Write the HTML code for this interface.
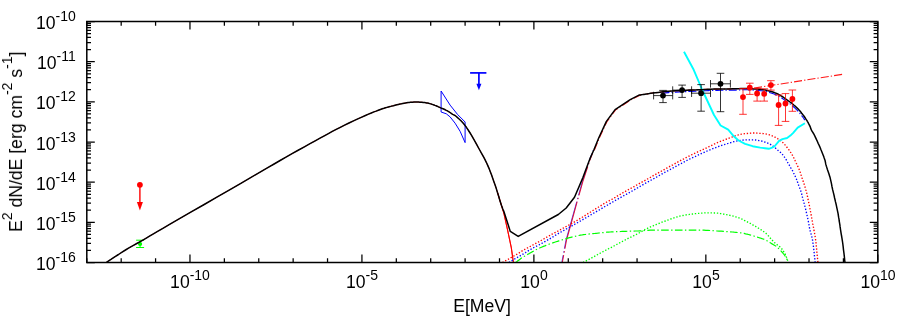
<!DOCTYPE html><html><head><meta charset="utf-8"><title>SED</title><style>
html,body{margin:0;padding:0;background:#fff}
#p{position:relative;width:910px;height:319px;overflow:hidden;background:#fff;font-family:"Liberation Sans",sans-serif;color:#000;font-size:17.6px;line-height:20px}
.t{position:absolute;white-space:nowrap;height:20px;will-change:transform}
.y{right:834.4px;text-align:right}
.x{width:80px;text-align:center}
sup{font-size:14px;vertical-align:baseline;position:relative;top:-8.4px;line-height:0}
sup.r{top:-9.7px}
#yt{position:absolute;left:0;top:0;white-space:nowrap;transform-origin:0 0;height:20px;will-change:transform}
</style></head><body><div id="p">
<svg width="910" height="319" viewBox="0 0 910 319" style="position:absolute;left:0;top:0">
<rect width="910" height="319" fill="#fff"/>
<defs><clipPath id="c"><rect x="86.8" y="21.5" width="791.0" height="241.6"/></clipPath></defs>
<g fill="none" stroke="#0f0" stroke-width="1"><path d="M140.1 240.2V247.5M136.1 240.2H144.1M136.1 247.5H144.1"/></g>
<circle cx="140.1" cy="244" r="2.1" fill="#0f0"/>
<g clip-path="url(#c)" fill="none" stroke-linejoin="round">
<polyline points="106.2,262.5 108.3,261.1 111.3,259.2 114.7,256.9 118.5,254.5 122.1,252.1 125.5,250.0 128.5,248.2 131.2,246.6 133.9,245.1 136.8,243.5 139.8,241.8 143.3,239.8 146.7,237.8 149.9,235.9 153.4,233.9 157.6,231.4 162.9,228.3 170.0,224.2 179.5,218.7 191.2,211.9 204.2,204.5 217.3,196.9 229.6,189.8 240.0,183.8 248.5,178.9 255.8,174.6 262.2,170.9 268.2,167.4 274.1,164.0 280.1,160.5 286.4,156.9 292.5,153.4 298.6,150.0 304.4,146.8 310.0,143.7 315.2,140.8 320.0,138.2 324.3,135.8 328.4,133.6 332.3,131.4 336.2,129.4 340.3,127.3 344.6,125.2 349.0,123.0 353.5,120.9 357.8,118.9 361.8,117.1 365.4,115.5 368.5,114.1 371.3,113.0 373.9,111.9 376.2,111.1 378.3,110.3 380.4,109.5 382.3,108.8 384.0,108.3 385.5,107.8 387.0,107.4 388.4,107.0 390.0,106.6 391.7,106.1 393.4,105.7 395.1,105.2 396.8,104.8 398.4,104.4 400.0,104.0 401.5,103.7 402.8,103.4 404.2,103.2 405.5,103.0 406.7,102.8 408.0,102.6 409.2,102.5 410.4,102.3 411.6,102.2 412.8,102.2 413.9,102.1 415.1,102.1 416.3,102.1 417.5,102.1 418.6,102.1 419.8,102.2 420.9,102.2 422.0,102.3 423.0,102.4 423.9,102.5 424.8,102.6 425.7,102.7 426.6,102.9 427.6,103.1 428.6,103.3 429.7,103.6 430.8,103.9 431.9,104.3 432.9,104.6 434.0,105.0 435.0,105.4 436.1,105.8 437.1,106.2 438.1,106.7 439.1,107.1 440.2,107.6 441.3,108.1 442.4,108.5 443.6,109.0 444.7,109.5 445.8,110.1 446.9,110.6 447.9,111.2 449.0,111.8 450.0,112.5 451.0,113.2 451.9,113.8 452.7,114.3 453.4,114.7 453.9,114.9 454.4,115.2 454.9,115.4 455.5,115.8 456.3,116.5 457.3,117.4 458.5,118.5 459.9,119.7 461.2,121.0 462.6,122.5 463.9,124.0 465.1,125.6 466.4,127.3 467.6,129.1 468.8,131.0 470.1,133.0 471.4,135.1 472.7,137.4 474.1,139.8 475.5,142.3 476.9,144.9 478.3,147.5 479.7,150.0 481.0,152.4 482.4,154.8 483.7,157.2 485.0,159.7 486.3,162.3 487.6,165.1 488.9,168.1 490.2,171.4 491.5,174.8 492.7,178.2 493.9,181.7 495.1,185.1 496.3,188.7 497.5,192.5 498.7,196.4 499.8,200.0 500.7,203.0 501.4,205.2 503.8,213.0 507.6,230.1 511.3,247.7 513.4,262.5" stroke="#f00" stroke-width="0.8"/>
<polyline points="497.5,192.5 498.7,196.4 499.8,200.0 500.7,203.0 501.4,205.2 503.8,213.0 507.6,230.1 511.3,247.7 513.4,262.5" stroke="#f00" stroke-width="1.1"/>
<polyline points="561.8,262.5 566.0,240.2 571.2,221.5 576.8,201.5 582.4,181.4 589.9,158.8 593.3,150.0" stroke="#00f" stroke-width="0.7" stroke-dasharray="7.5 2.6 1.4 2.6 48.6 2.6 1.4 2.6 30 2.6 1.4 2.6"/>
<polyline points="562.3,262.5 566.5,240.2 571.7,221.5 577.2,201.5 582.9,181.4 590.4,158.8 593.8,150.0" stroke="#e00028" stroke-width="1.05" stroke-opacity="0.9" stroke-dasharray="7.5 2.6 1.4 2.6 48.6 2.6 1.4 2.6 30 2.6 1.4 2.6"/>
<polyline points="661.4,93.3 664.9,92.9 668.4,92.6 672.0,92.3 675.7,92.1 679.6,91.9 683.7,91.7 687.7,91.6 691.5,91.4 695.0,91.3 698.0,91.1 700.7,91.0 703.2,90.9 705.7,90.7 708.2,90.6 711.0,90.5 714.0,90.4 717.3,90.4 720.6,90.3 723.9,90.3 727.0,90.3 730.0,90.2 732.8,90.1 735.7,90.1 738.4,90.0 740.9,89.9 743.1,89.8 745.0,89.8 746.3,89.8 747.1,89.8 747.6,89.8 748.0,89.8 748.8,89.9 750.0,90.0 750.9,90.0 753.2,90.1 755.7,90.3 758.4,90.5 760.9,90.7 763.2,91.0 765.3,91.4 767.3,91.9 769.2,92.4 771.0,93.0 772.6,93.5 774.2,94.1 775.6,94.7 776.8,95.2 778.0,95.8 779.0,96.4 780.0,97.0 781.0,97.6 782.0,98.2 782.8,98.8 783.7,99.4 784.5,100.0 785.3,100.6 786.2,101.2 787.1,101.9 788.1,102.5 789.0,103.2 790.0,103.9 791.0,104.6 791.9,105.4 792.8,106.2 793.8,107.0 794.8,107.9 795.7,108.8 796.6,109.7 797.5,110.6 798.3,111.5 799.2,112.5 800.0,113.4 800.7,114.4 801.5,115.4 802.2,116.3 802.9,117.2 803.6,118.2 804.2,119.1 804.8,120.1" stroke="#00f" stroke-width="1.1" stroke-dasharray="8.1 2.05 1.3 2.05"/>
<polyline points="594.3,150.3 599.3,138.0 606.9,121.7 615.6,109.9 630.7,99.9 639.5,95.4 640.1,95.3 640.5,94.9 641.5,94.7 642.6,94.6 643.8,94.4 645.0,94.2 646.1,94.0 647.0,93.9 648.1,93.7 649.3,93.5 650.8,93.2 652.8,93.0 655.3,92.7 658.2,92.4 661.4,92.0 664.9,91.6 668.4,91.3 672.0,91.0 675.7,90.8 679.6,90.6 683.7,90.4 687.7,90.3 691.5,90.1 695.0,90.0 698.0,89.8 700.7,89.7 703.2,89.6 705.7,89.4 708.2,89.3 711.0,89.2 714.0,89.1 717.3,89.1 720.6,89.0 723.9,89.0 727.0,89.0 730.0,88.9 732.8,88.8 735.7,88.8 738.4,88.7 740.9,88.6 743.1,88.5 745.0,88.5 746.3,88.5 747.1,88.5 747.6,88.5 748.0,88.5 748.8,88.6 750.0,88.7 844.1,74.1" stroke="#f00" stroke-width="1.1" stroke-opacity="0.9" stroke-dasharray="8.1 2.05 1.3 2.05"/>
<polyline points="502.4,262.5 503.8,261.7 505.8,260.6 508.1,259.3 510.5,257.9 512.9,256.5 515.1,255.3 517.0,254.2 518.8,253.1 520.5,252.0 522.2,250.9 524.0,249.8 526.0,248.7 528.2,247.5 530.5,246.3 532.8,245.0 535.2,243.7 537.5,242.5 539.7,241.3 541.7,240.2 543.7,239.0 545.5,237.9 547.3,236.8 549.1,235.8 550.7,234.9 552.1,234.1 553.2,233.5 554.3,233.0 555.5,232.3 557.0,231.6 558.9,230.5 561.4,229.2 564.2,227.6 567.3,225.9 570.6,224.1 574.1,222.1 577.7,220.0 581.6,217.6 586.0,214.9 590.6,212.0 595.0,209.2 599.1,206.7 602.5,204.6 605.1,203.0 607.2,201.8 608.9,200.9 610.3,200.1 611.8,199.3 613.5,198.3 615.3,197.3 617.1,196.2 618.8,195.2 620.6,194.1 622.5,193.0 624.5,191.9 626.6,190.7 628.9,189.4 631.2,188.1 633.6,186.8 635.8,185.6 638.0,184.3 640.0,183.2 641.9,182.1 643.8,181.1 645.7,180.1 647.5,179.0 649.3,178.0 651.1,177.0 652.9,175.9 654.7,174.9 656.5,173.9 658.3,172.9 660.1,171.9 661.9,170.9 663.7,169.9 665.5,168.9 667.3,167.8 669.1,166.8 670.9,165.8 672.8,164.8 674.6,163.8 676.5,162.7 678.4,161.7 680.3,160.7 682.2,159.7 684.1,158.7 685.9,157.7 687.8,156.8 689.6,155.8 691.5,154.8 693.4,153.9 695.3,153.0 697.3,152.1 699.3,151.2 701.3,150.3 703.3,149.4 705.2,148.5 707.1,147.6 709.1,146.6 711.0,145.7 712.9,144.8 714.7,143.9 716.4,143.1 718.0,142.4 719.6,141.8 721.0,141.2 722.4,140.7 723.9,140.1 725.3,139.6 726.8,139.0 728.2,138.4 729.7,137.8 731.1,137.3 732.5,136.8 733.8,136.3 735.0,135.9 736.1,135.5 737.2,135.2 738.3,134.9 739.3,134.6 740.4,134.4 741.5,134.2 742.6,134.0 743.6,133.9 744.7,133.7 745.8,133.6 747.0,133.5 748.2,133.4 749.4,133.3 750.7,133.2 752.0,133.1 753.2,133.0 754.5,133.0 755.8,133.0 757.0,133.1 758.3,133.2 759.6,133.3 760.8,133.4 762.0,133.5 763.2,133.6 764.3,133.8 765.4,133.9 766.5,134.1 767.6,134.3 768.6,134.6 769.6,134.9 770.6,135.2 771.6,135.6 772.5,136.0 773.5,136.4 774.4,136.8 775.3,137.3 776.2,137.7 777.1,138.2 777.9,138.8 778.8,139.3 779.6,139.9 780.4,140.5 781.2,141.2 782.0,141.9 782.8,142.6 783.6,143.3 784.3,144.1 785.0,144.9 785.7,145.7 786.4,146.6 787.1,147.5 787.8,148.4 788.5,149.3 789.2,150.2 789.9,151.2 790.5,152.1 791.2,153.1 791.8,154.2 792.5,155.3 793.2,156.5 793.8,157.8 794.5,159.2 795.1,160.6 795.7,161.9 796.3,163.2 796.9,164.4 797.4,165.5 797.9,166.6 798.4,167.7 798.9,168.8 799.4,170.0 799.9,171.2 800.3,172.5 800.7,173.8 801.1,175.1 801.5,176.4 801.9,177.6 802.3,178.7 802.6,179.7 803.0,180.7 803.3,181.7 803.6,182.7 804.0,183.8 804.4,184.9 804.7,186.1 805.1,187.2 805.5,188.4 805.8,189.7 806.2,191.0 806.5,192.4 806.9,193.7 807.2,195.2 807.5,196.7 807.8,198.3 808.2,200.0 808.6,201.9 809.0,204.0 809.5,206.2 809.9,208.5 810.3,210.6 810.7,212.6 811.1,214.5 811.4,216.2 811.7,218.0 812.0,219.6 812.3,221.1 812.6,222.6 812.8,223.9 813.0,224.9 813.2,225.9 813.4,226.9 813.6,228.1 813.8,229.4 814.1,230.9 814.4,232.4 814.7,234.0 815.0,235.8 815.4,238.0 815.7,240.5 816.1,243.8 816.5,247.8 816.9,252.2 817.3,256.4 817.7,260.0 817.9,262.5" stroke="#f00" stroke-width="1.35" stroke-dasharray="1.35 1.8"/>
<polyline points="508.9,262.5 509.6,262.0 510.7,261.4 511.9,260.7 513.1,259.9 514.4,259.1 515.4,258.5 516.2,258.0 516.8,257.7 517.4,257.4 518.0,257.0 518.9,256.6 520.0,255.9 521.6,254.9 523.5,253.8 525.6,252.5 527.7,251.1 529.8,249.9 531.6,248.8 533.1,247.9 534.5,247.2 535.8,246.5 537.1,245.9 538.4,245.2 539.9,244.4 541.6,243.5 543.4,242.4 545.4,241.3 547.3,240.2 549.1,239.2 550.8,238.2 552.2,237.3 553.4,236.6 554.5,235.9 555.7,235.1 557.1,234.3 558.9,233.2 561.0,232.0 563.4,230.6 566.0,229.2 568.8,227.6 571.9,225.9 575.2,224.0 579.0,221.8 583.5,219.2 588.1,216.5 592.6,213.8 596.7,211.4 600.0,209.5 602.3,208.1 603.9,207.2 605.0,206.5 605.9,206.0 606.9,205.4 608.2,204.6 609.9,203.6 611.6,202.6 613.5,201.5 615.4,200.4 617.2,199.4 619.1,198.3 620.9,197.3 622.7,196.3 624.4,195.3 626.2,194.4 628.1,193.3 630.1,192.2 632.2,191.0 634.5,189.7 636.8,188.3 639.2,186.9 641.4,185.6 643.6,184.3 645.6,183.2 647.5,182.1 649.4,181.1 651.3,180.0 653.1,179.0 654.9,178.0 656.7,177.0 658.5,175.9 660.3,174.9 662.1,173.9 663.9,172.9 665.7,171.9 667.6,170.9 669.4,169.9 671.3,168.9 673.2,167.8 675.1,166.8 677.0,165.8 678.9,164.7 681.0,163.6 683.0,162.5 685.0,161.5 686.7,160.5 688.3,159.7 689.5,159.1 690.4,158.7 691.1,158.3 691.8,158.0 692.7,157.6 693.9,157.1 695.5,156.4 697.2,155.5 699.2,154.6 701.2,153.6 703.3,152.7 705.2,151.8 707.1,151.0 709.0,150.2 711.0,149.4 712.8,148.7 714.7,148.0 716.4,147.3 718.0,146.7 719.6,146.2 721.0,145.7 722.4,145.2 723.9,144.8 725.3,144.3 726.8,143.8 728.2,143.4 729.6,142.9 731.1,142.5 732.4,142.1 733.8,141.7 735.1,141.4 736.4,141.1 737.7,140.8 738.9,140.6 740.1,140.4 741.3,140.2 742.5,140.1 743.6,140.0 744.7,139.9 745.7,139.9 746.8,139.8 747.9,139.8 749.0,139.8 750.1,139.8 751.2,139.8 752.3,139.8 753.4,139.8 754.5,139.9 755.6,140.0 756.7,140.2 757.9,140.3 759.0,140.6 760.1,140.8 761.1,141.0 762.1,141.2 763.1,141.5 764.1,141.8 765.0,142.1 765.9,142.4 766.8,142.7 767.6,143.0 768.5,143.4 769.2,143.7 770.0,144.1 770.8,144.6 771.6,145.1 772.4,145.7 773.3,146.4 774.2,147.1 775.1,147.8 776.0,148.6 776.8,149.3 777.6,150.0 778.4,150.7 779.2,151.4 780.0,152.1 780.8,152.8 781.5,153.5 782.2,154.2 782.8,154.9 783.3,155.6 783.9,156.3 784.5,157.2 785.2,158.2 786.0,159.4 786.8,160.8 787.6,162.3 788.5,163.8 789.3,165.2 790.0,166.5 790.6,167.6 791.2,168.5 791.6,169.3 792.1,170.1 792.6,170.9 793.1,171.9 793.6,173.0 794.2,174.1 794.7,175.3 795.3,176.4 795.8,177.6 796.3,178.8 796.8,180.0 797.2,181.2 797.6,182.3 798.0,183.5 798.4,184.6 798.8,185.7 799.2,186.6 799.5,187.4 799.8,188.2 800.1,189.0 800.4,189.9 800.8,191.0 801.2,192.3 801.6,193.6 801.9,195.1 802.3,196.7 802.8,198.3 803.2,200.0 803.7,201.8 804.2,203.7 804.7,205.6 805.2,207.6 805.7,209.5 806.1,211.3 806.5,213.0 806.9,214.6 807.2,216.2 807.6,217.7 807.9,219.2 808.2,220.7 808.5,222.2 808.7,223.6 809.0,224.9 809.2,226.3 809.5,227.8 809.8,229.4 810.2,231.0 810.7,232.5 811.1,234.1 811.6,235.9 812.1,238.0 812.6,240.5 813.1,243.8 813.6,247.8 814.1,252.2 814.5,256.4 814.9,260.0 815.2,262.5" stroke="#00f" stroke-width="1.35" stroke-dasharray="1.35 1.8"/>
<polyline points="583.0,262.5 584.1,261.9 585.5,261.2 587.3,260.2 589.1,259.3 591.0,258.3 592.6,257.4 594.1,256.6 595.5,255.8 596.9,255.0 598.2,254.2 599.6,253.5 601.0,252.7 602.4,252.0 603.8,251.2 605.2,250.5 606.7,249.8 608.1,249.0 609.5,248.3 610.9,247.6 612.4,246.8 613.8,246.0 615.2,245.3 616.6,244.5 618.0,243.8 619.3,243.1 620.5,242.4 621.8,241.8 623.0,241.1 624.4,240.4 625.9,239.6 627.6,238.7 629.5,237.8 631.5,236.8 633.5,235.8 635.5,234.8 637.3,233.9 639.0,233.0 640.7,232.0 642.2,231.1 643.8,230.2 645.2,229.4 646.6,228.7 647.9,228.1 649.0,227.6 650.1,227.1 651.1,226.7 652.1,226.2 653.2,225.8 654.3,225.3 655.4,224.9 656.5,224.4 657.6,224.0 658.7,223.5 659.8,223.1 660.9,222.7 662.0,222.2 663.1,221.8 664.2,221.4 665.3,221.0 666.4,220.6 667.5,220.2 668.6,219.8 669.7,219.4 670.8,219.0 671.9,218.6 673.0,218.2 674.1,217.8 675.2,217.5 676.3,217.1 677.4,216.8 678.5,216.5 679.6,216.2 680.7,215.9 681.8,215.7 682.9,215.5 684.0,215.3 685.1,215.1 686.2,214.9 687.3,214.7 688.4,214.6 689.5,214.4 690.5,214.3 691.6,214.1 692.7,214.0 693.8,213.9 694.9,213.7 696.0,213.6 697.1,213.5 698.2,213.4 699.3,213.3 700.4,213.2 701.5,213.1 702.6,213.1 703.7,213.0 704.8,212.9 705.9,212.9 707.0,212.9 708.1,212.9 709.2,212.9 710.3,212.9 711.4,212.9 712.5,212.9 713.6,212.9 714.7,213.0 715.8,213.0 716.9,213.1 718.0,213.2 719.1,213.3 720.2,213.5 721.3,213.6 722.4,213.8 723.5,214.1 724.6,214.3 725.7,214.5 726.8,214.7 727.9,214.9 729.0,215.2 730.1,215.4 731.2,215.6 732.3,215.9 733.4,216.2 734.5,216.5 735.6,216.8 736.7,217.1 737.8,217.5 738.9,217.9 740.0,218.3 741.0,218.8 742.1,219.2 743.2,219.7 744.3,220.3 745.5,220.9 746.8,221.6 748.3,222.4 749.8,223.2 751.3,224.0 752.7,224.8 754.1,225.6 755.4,226.3 756.6,227.1 757.8,227.8 759.0,228.5 760.1,229.2 761.2,229.9 762.2,230.6 763.2,231.3 764.2,232.0 765.1,232.7 766.0,233.4 766.8,234.1 767.6,234.9 768.3,235.7 769.0,236.5 769.7,237.4 770.4,238.2 771.1,239.0 771.8,239.7 772.5,240.5 773.1,241.2 773.8,241.9 774.5,242.6 775.3,243.3 776.2,244.0 777.2,244.8 778.2,245.6 779.2,246.3 780.1,247.1 780.9,247.8 781.5,248.5 782.1,249.2 782.6,249.8 783.0,250.5 783.4,251.1 783.8,251.8 784.2,252.5 784.6,253.1 784.9,253.7 785.3,254.4 785.6,255.2 786.0,256.0 786.4,257.0 786.8,258.2 787.3,259.5 787.7,260.7 788.0,261.8 788.3,262.5" stroke="#0f0" stroke-width="1.35" stroke-dasharray="1.35 1.8"/>
<polyline points="515.8,262.5 516.5,261.9 517.5,261.1 518.7,260.2 520.0,259.2 521.2,258.3 522.2,257.6 523.0,257.1 523.7,256.6 524.4,256.3 525.0,255.9 525.8,255.5 526.7,255.0 527.8,254.3 529.2,253.6 530.6,252.7 532.0,251.9 533.3,251.2 534.5,250.5 535.5,250.0 536.3,249.5 537.1,249.2 537.8,248.8 538.6,248.4 539.6,248.0 540.8,247.5 542.0,247.0 543.4,246.4 544.8,245.9 546.0,245.4 547.2,244.9 548.2,244.5 549.0,244.2 549.7,243.9 550.5,243.6 551.3,243.3 552.3,243.0 553.5,242.6 554.7,242.2 556.0,241.8 557.4,241.4 558.9,240.9 560.3,240.5 561.7,240.0 563.2,239.6 564.8,239.1 566.3,238.6 567.9,238.1 569.4,237.7 570.9,237.3 572.5,236.9 574.1,236.5 575.7,236.2 577.2,235.8 578.8,235.5 580.4,235.2 581.9,235.0 583.5,234.7 585.1,234.5 586.6,234.3 588.2,234.1 589.8,233.9 591.3,233.8 592.9,233.6 594.5,233.5 596.0,233.3 597.6,233.2 599.2,233.0 600.7,232.9 602.3,232.7 603.9,232.5 605.4,232.3 607.0,232.2 608.6,232.1 610.1,232.0 611.7,231.9 613.3,231.8 614.8,231.8 616.4,231.7 617.9,231.6 619.4,231.6 620.8,231.5 622.3,231.4 624.0,231.4 625.8,231.3 628.0,231.2 630.4,231.2 633.0,231.1 635.6,231.0 637.9,231.0 640.0,230.9 641.6,230.8 642.7,230.7 643.7,230.6 644.7,230.5 646.0,230.4 647.9,230.3 650.3,230.2 653.0,230.2 656.0,230.2 659.3,230.1 662.7,230.1 666.4,230.1 670.5,230.1 675.1,230.1 679.9,230.1 684.6,230.1 689.0,230.1 692.7,230.1 695.7,230.1 698.1,230.1 700.1,230.2 702.0,230.2 703.9,230.2 705.9,230.3 708.1,230.4 710.3,230.5 712.5,230.7 714.7,230.8 716.9,231.0 719.1,231.1 721.3,231.2 723.6,231.4 725.9,231.5 728.1,231.7 730.3,231.8 732.3,232.0 734.2,232.2 736.0,232.3 737.7,232.5 739.3,232.6 740.9,232.9 742.5,233.1 744.1,233.4 745.6,233.8 747.1,234.1 748.5,234.5 749.9,234.9 751.3,235.3 752.6,235.7 753.8,236.0 755.0,236.4 756.2,236.8 757.3,237.1 758.5,237.5 759.7,237.9 760.9,238.2 762.0,238.6 763.2,239.0 764.3,239.4 765.4,239.9 766.4,240.4 767.4,241.0 768.3,241.5 769.3,242.1 770.2,242.7 771.1,243.3 772.0,243.9 773.0,244.4 773.9,244.9 774.8,245.5 775.8,246.1 776.7,246.8 777.7,247.6 778.7,248.6 779.7,249.6 780.7,250.6 781.6,251.6 782.4,252.5 783.1,253.4 783.8,254.2 784.4,255.0 784.9,255.8 785.4,256.6 785.9,257.4 786.4,258.3 786.9,259.3 787.3,260.3 787.7,261.2 788.1,261.9 788.3,262.5" stroke="#0f0" stroke-width="1.2" stroke-dasharray="7.6 2.4 1.4 2.4"/>
<polyline points="684.0,51.8 693.7,69.8 702.3,90.0 714.0,115.0 720.6,125.5 728.2,129.7 733.8,136.3 738.5,140.5 745.1,143.8 752.6,146.2 760.2,147.6 765.0,148.3 768.8,148.8 772.1,147.7 774.4,146.5 779.1,140.8 782.4,139.1 787.1,138.0 790.4,135.6 793.2,132.8 797.7,127.6 804.9,123.3" stroke="#0ff" stroke-width="1.9"/>
<polygon points="441.1,91.0 450.1,105.1 457.6,114.5 465.1,122.0 465.1,142.6 460.1,131.3 455.1,123.2 450.1,116.9 446.3,113.8 441.1,112.0" stroke="#00f" stroke-width="1" stroke-linejoin="miter"/>
<polyline points="106.2,262.5 108.3,261.1 111.3,259.2 114.7,256.9 118.5,254.5 122.1,252.1 125.5,250.0 128.5,248.2 131.2,246.6 133.9,245.1 136.8,243.5 139.8,241.8 143.3,239.8 146.7,237.8 149.9,235.9 153.4,233.9 157.6,231.4 162.9,228.3 170.0,224.2 179.5,218.7 191.2,211.9 204.2,204.5 217.3,196.9 229.6,189.8 240.0,183.8 248.5,178.9 255.8,174.6 262.2,170.9 268.2,167.4 274.1,164.0 280.1,160.5 286.4,156.9 292.5,153.4 298.6,150.0 304.4,146.8 310.0,143.7 315.2,140.8 320.0,138.2 324.3,135.8 328.4,133.6 332.3,131.4 336.2,129.4 340.3,127.3 344.6,125.2 349.0,123.0 353.5,120.9 357.8,118.9 361.8,117.1 365.4,115.5 368.5,114.1 371.3,113.0 373.9,111.9 376.2,111.1 378.3,110.3 380.4,109.5 382.3,108.8 384.0,108.3 385.5,107.8 387.0,107.4 388.4,107.0 390.0,106.6 391.7,106.1 393.4,105.7 395.1,105.2 396.8,104.8 398.4,104.4 400.0,104.0 401.5,103.7 402.8,103.4 404.2,103.2 405.5,103.0 406.7,102.8 408.0,102.6 409.2,102.5 410.4,102.3 411.6,102.2 412.8,102.2 413.9,102.1 415.1,102.1 416.3,102.1 417.5,102.1 418.6,102.1 419.8,102.2 420.9,102.2 422.0,102.3 423.0,102.4 423.9,102.5 424.8,102.6 425.7,102.7 426.6,102.9 427.6,103.1 428.6,103.3 429.7,103.6 430.8,103.9 431.9,104.3 432.9,104.6 434.0,105.0 435.0,105.4 436.1,105.8 437.1,106.2 438.1,106.7 439.1,107.1 440.2,107.6 441.3,108.1 442.4,108.5 443.6,109.0 444.7,109.5 445.8,110.1 446.9,110.6 447.9,111.2 449.0,111.8 450.0,112.5 451.0,113.2 451.9,113.8 452.7,114.3 453.4,114.7 453.9,114.9 454.4,115.2 454.9,115.4 455.5,115.8 456.3,116.5 457.3,117.4 458.5,118.5 459.9,119.7 461.2,121.0 462.6,122.5 463.9,124.0 465.1,125.6 466.4,127.3 467.6,129.1 468.8,131.0 470.1,133.0 471.4,135.1 472.7,137.4 474.1,139.8 475.5,142.3 476.9,144.9 478.3,147.5 479.7,150.0 481.0,152.4 482.4,154.8 483.7,157.2 485.0,159.7 486.3,162.3 487.6,165.1 488.9,168.1 490.2,171.4 491.5,174.8 492.7,178.2 493.9,181.7 495.1,185.1 496.3,188.6 497.4,192.3 498.6,196.0 499.6,199.5 500.6,202.7 501.4,205.2 502.1,207.1 502.6,208.5 503.0,209.5 503.3,210.2 503.6,210.8 503.8,211.3 510.3,231.4 518.2,236.4 558.3,214.5 566.2,208.0 574.5,197.2 582.9,177.6 590.4,157.6 593.8,150.0 598.8,137.7 606.4,121.4 615.1,109.6 630.2,99.6 639.0,95.1 639.6,95.0 640.5,94.9 641.5,94.7 642.6,94.6 643.8,94.4 645.0,94.2 646.1,94.0 647.0,93.9 648.1,93.7 649.3,93.5 650.8,93.2 652.8,93.0 655.3,92.7 658.2,92.4 661.4,92.0 664.9,91.6 668.4,91.3 672.0,91.0 675.7,90.8 679.6,90.6 683.7,90.4 687.7,90.3 691.5,90.1 695.0,90.0 698.0,89.8 700.7,89.7 703.2,89.6 705.7,89.4 708.2,89.3 711.0,89.2 714.0,89.1 717.3,89.1 720.6,89.0 723.9,89.0 727.0,89.0 730.0,88.9 732.8,88.8 735.7,88.8 738.4,88.7 740.9,88.6 743.1,88.5 745.0,88.5 746.3,88.5 747.1,88.5 747.6,88.5 748.0,88.5 748.8,88.6 750.0,88.7 751.9,88.8 754.2,88.9 756.7,89.1 759.4,89.3 761.9,89.5 764.2,89.8 766.3,90.2 768.3,90.7 770.2,91.2 772.0,91.8 773.6,92.3 775.2,92.9 776.6,93.5 777.8,94.0 779.0,94.6 780.0,95.2 781.0,95.8 782.0,96.4 783.0,97.0 783.8,97.6 784.7,98.2 785.5,98.8 786.3,99.4 787.2,100.0 788.1,100.7 789.1,101.3 790.0,102.0 791.0,102.7 792.0,103.4 792.9,104.2 793.8,105.0 794.8,105.8 795.8,106.7 796.7,107.6 797.6,108.5 798.5,109.4 799.3,110.3 800.2,111.3 801.0,112.2 801.7,113.2 802.5,114.2 803.2,115.1 803.9,116.0 804.6,117.0 805.2,117.9 805.8,118.9 806.4,119.8 807.0,120.7 807.5,121.6 808.1,122.5 808.5,123.4 809.0,124.3 809.4,125.1 809.8,125.9 810.1,126.6 810.4,127.3 810.6,128.0 810.8,128.7 811.1,129.3 811.4,130.0 811.7,130.7 812.1,131.3 812.5,131.9 812.9,132.5 813.4,133.3 813.9,134.2 814.5,135.3 815.1,136.6 815.7,137.9 816.4,139.4 817.1,140.8 817.7,142.2 818.3,143.6 819.0,145.0 819.6,146.4 820.2,147.8 820.8,149.3 821.4,150.7 822.0,152.2 822.6,153.7 823.2,155.2 823.7,156.6 824.2,158.1 824.7,159.4 825.1,160.6 825.3,161.7 825.5,162.7 825.7,163.7 826.0,164.9 826.4,166.3 826.9,167.9 827.5,169.8 828.2,171.7 828.9,173.7 829.5,175.7 830.1,177.6 830.5,179.4 830.9,181.1 831.3,182.8 831.6,184.4 831.9,186.2 832.3,188.0 832.7,189.9 833.2,191.9 833.7,193.9 834.2,196.0 834.6,198.0 835.1,200.0 835.5,201.9 836.0,203.8 836.4,205.7 836.8,207.6 837.2,209.4 837.6,211.3 838.0,213.2 838.3,215.2 838.6,217.2 839.0,219.2 839.2,221.0 839.5,222.6 839.7,223.9 839.9,225.0 840.0,225.9 840.1,226.9 840.3,228.0 840.5,229.5 840.8,231.3 841.1,233.3 841.5,235.5 841.9,237.8 842.3,240.3 842.7,243.0 843.1,246.1 843.5,249.8 844.0,253.6 844.4,257.2 844.7,260.3 845.0,262.5" stroke="#000" stroke-width="1.5"/>
</g>
<g fill="none" stroke="#000" stroke-width="0.8">
<path d="M653.6 95.6H672.7M653.6 91.8V99.4M672.7 91.8V99.4" /><path d="M663.0 90.4V102.6M659.2 90.4H666.8M659.2 102.6H666.8"/>
<path d="M672.7 90.1H691.6M672.7 86.3V93.9M691.6 86.3V93.9" /><path d="M682.1 85.1V97.4M678.3 85.1H685.9M678.3 97.4H685.9"/>
<path d="M691.6 93.2H710.5M691.6 89.4V97.0M710.5 89.4V97.0" /><path d="M701.1 84.6V111.2M697.3 84.6H704.9M697.3 111.2H704.9"/>
<path d="M710.5 83.8H730.4M710.5 80.0V87.6M730.4 80.0V87.6" /><path d="M720.5 73.3V111.7M716.7 73.3H724.3M716.7 111.7H724.3"/>
</g><g fill="#000">
<circle cx="663.0" cy="95.6" r="2.9"/>
<circle cx="682.1" cy="90.1" r="2.9"/>
<circle cx="701.1" cy="93.2" r="2.9"/>
<circle cx="720.5" cy="83.8" r="2.9"/>
</g>
<g fill="none" stroke="#f00" stroke-width="0.8">
<path d="M743.0 88.6V114.3M739.2 88.6H746.8M739.2 114.3H746.8"/>
<path d="M749.8 83.2V94.4M746.0 83.2H753.6M746.0 94.4H753.6"/>
<path d="M757.1 88.4V101.1M753.3 88.4H760.9M753.3 101.1H760.9"/>
<path d="M764.2 88.8V101.1M760.4 88.8H768.0M760.4 101.1H768.0"/>
<path d="M770.9 80.7V90.1M767.1 80.7H774.7M767.1 90.1H774.7"/>
<path d="M778.6 95.0V125.4M774.8 95.0H782.4M774.8 125.4H782.4"/>
<path d="M785.5 93.6V121.4M781.7 93.6H789.3M781.7 121.4H789.3"/>
<path d="M792.4 90.0V111.3M788.6 90.0H796.2M788.6 111.3H796.2"/>
<path d="M139.9 185V203" stroke-width="1.4"/>
</g><g fill="#f00">
<circle cx="743.0" cy="97.1" r="2.9"/>
<circle cx="749.8" cy="87.7" r="2.9"/>
<circle cx="757.1" cy="93.5" r="2.9"/>
<circle cx="764.2" cy="93.8" r="2.9"/>
<circle cx="770.9" cy="85.1" r="2.9"/>
<circle cx="778.6" cy="105.0" r="2.9"/>
<circle cx="785.5" cy="103.5" r="2.9"/>
<circle cx="792.4" cy="99.0" r="2.9"/>
<circle cx="139.9" cy="184.8" r="2.9"/>
<path d="M136.9 202H142.9L139.9 210.6Z"/>
</g>
<g fill="none" stroke="#00f"><path d="M470.1 72.9H486.4" stroke-width="1.7"/><path d="M478.9 73V85" stroke-width="1.7"/></g>
<path d="M476.4 83.8H481.4L478.9 90.2Z" fill="#00f"/>
<g fill="none" stroke="#000">
<rect x="86.8" y="21.5" width="791.0" height="241.0" stroke-width="1.5"/>
<path d="M86.80 262.5v-4.2M86.80 21.5v4.2M121.19 262.5v-4.2M121.19 21.5v4.2M155.58 262.5v-4.2M155.58 21.5v4.2M189.97 262.5v-8.0M189.97 21.5v8.0M224.37 262.5v-4.2M224.37 21.5v4.2M258.76 262.5v-4.2M258.76 21.5v4.2M293.15 262.5v-4.2M293.15 21.5v4.2M327.54 262.5v-4.2M327.54 21.5v4.2M361.93 262.5v-8.0M361.93 21.5v8.0M396.32 262.5v-4.2M396.32 21.5v4.2M430.71 262.5v-4.2M430.71 21.5v4.2M465.10 262.5v-4.2M465.10 21.5v4.2M499.50 262.5v-4.2M499.50 21.5v4.2M533.89 262.5v-8.0M533.89 21.5v8.0M568.28 262.5v-4.2M568.28 21.5v4.2M602.67 262.5v-4.2M602.67 21.5v4.2M637.06 262.5v-4.2M637.06 21.5v4.2M671.45 262.5v-4.2M671.45 21.5v4.2M705.84 262.5v-8.0M705.84 21.5v8.0M740.23 262.5v-4.2M740.23 21.5v4.2M774.63 262.5v-4.2M774.63 21.5v4.2M809.02 262.5v-4.2M809.02 21.5v4.2M843.41 262.5v-4.2M843.41 21.5v4.2M877.80 262.5v-8.0M877.80 21.5v8.0M86.8 262.50h8.0M877.8 262.50h-8.0M86.8 250.41h4.2M877.8 250.41h-4.2M86.8 243.34h4.2M877.8 243.34h-4.2M86.8 238.32h4.2M877.8 238.32h-4.2M86.8 234.42h4.2M877.8 234.42h-4.2M86.8 231.24h4.2M877.8 231.24h-4.2M86.8 228.56h4.2M877.8 228.56h-4.2M86.8 226.23h4.2M877.8 226.23h-4.2M86.8 224.17h4.2M877.8 224.17h-4.2M86.8 222.33h8.0M877.8 222.33h-8.0M86.8 210.24h4.2M877.8 210.24h-4.2M86.8 203.17h4.2M877.8 203.17h-4.2M86.8 198.15h4.2M877.8 198.15h-4.2M86.8 194.26h4.2M877.8 194.26h-4.2M86.8 191.08h4.2M877.8 191.08h-4.2M86.8 188.39h4.2M877.8 188.39h-4.2M86.8 186.06h4.2M877.8 186.06h-4.2M86.8 184.00h4.2M877.8 184.00h-4.2M86.8 182.17h8.0M877.8 182.17h-8.0M86.8 170.08h4.2M877.8 170.08h-4.2M86.8 163.00h4.2M877.8 163.00h-4.2M86.8 157.98h4.2M877.8 157.98h-4.2M86.8 154.09h4.2M877.8 154.09h-4.2M86.8 150.91h4.2M877.8 150.91h-4.2M86.8 148.22h4.2M877.8 148.22h-4.2M86.8 145.89h4.2M877.8 145.89h-4.2M86.8 143.84h4.2M877.8 143.84h-4.2M86.8 142.00h8.0M877.8 142.00h-8.0M86.8 129.91h4.2M877.8 129.91h-4.2M86.8 122.84h4.2M877.8 122.84h-4.2M86.8 117.82h4.2M877.8 117.82h-4.2M86.8 113.92h4.2M877.8 113.92h-4.2M86.8 110.74h4.2M877.8 110.74h-4.2M86.8 108.06h4.2M877.8 108.06h-4.2M86.8 105.73h4.2M877.8 105.73h-4.2M86.8 103.67h4.2M877.8 103.67h-4.2M86.8 101.83h8.0M877.8 101.83h-8.0M86.8 89.74h4.2M877.8 89.74h-4.2M86.8 82.67h4.2M877.8 82.67h-4.2M86.8 77.65h4.2M877.8 77.65h-4.2M86.8 73.76h4.2M877.8 73.76h-4.2M86.8 70.58h4.2M877.8 70.58h-4.2M86.8 67.89h4.2M877.8 67.89h-4.2M86.8 65.56h4.2M877.8 65.56h-4.2M86.8 63.50h4.2M877.8 63.50h-4.2M86.8 61.67h8.0M877.8 61.67h-8.0M86.8 49.58h4.2M877.8 49.58h-4.2M86.8 42.50h4.2M877.8 42.50h-4.2M86.8 37.48h4.2M877.8 37.48h-4.2M86.8 33.59h4.2M877.8 33.59h-4.2M86.8 30.41h4.2M877.8 30.41h-4.2M86.8 27.72h4.2M877.8 27.72h-4.2M86.8 25.39h4.2M877.8 25.39h-4.2M86.8 23.34h4.2M877.8 23.34h-4.2M86.8 21.50h8.0M877.8 21.50h-8.0" stroke-width="1.25"/>
</g>
</svg>
<div class="t y" style="top:254.1px">10<sup>-16</sup></div>
<div class="t y" style="top:213.9px">10<sup>-15</sup></div>
<div class="t y" style="top:173.8px">10<sup>-14</sup></div>
<div class="t y" style="top:133.6px">10<sup>-13</sup></div>
<div class="t y" style="top:93.4px">10<sup>-12</sup></div>
<div class="t y" style="top:53.3px">10<sup>-11</sup></div>
<div class="t y" style="top:13.1px">10<sup>-10</sup></div>
<div class="t x" style="left:150.2px;top:271.5px">10<sup>-10</sup></div>
<div class="t x" style="left:322.1px;top:271.5px">10<sup>-5</sup></div>
<div class="t x" style="left:494.1px;top:271.5px">10<sup>0</sup></div>
<div class="t x" style="left:666.0px;top:271.5px">10<sup>5</sup></div>
<div class="t x" style="left:838.0px;top:271.5px">10<sup>10</sup></div>
<div class="t x" style="left:422.4px;top:296.3px;width:120px">E[MeV]</div>
<div id="yt" style="transform:translate(6.0px,231.9px) rotate(-90deg)">E<sup class="r">2</sup> dN/dE [erg cm<sup class="r">-2</sup> s<sup class="r">-1</sup>]</div>
</div></body></html>
